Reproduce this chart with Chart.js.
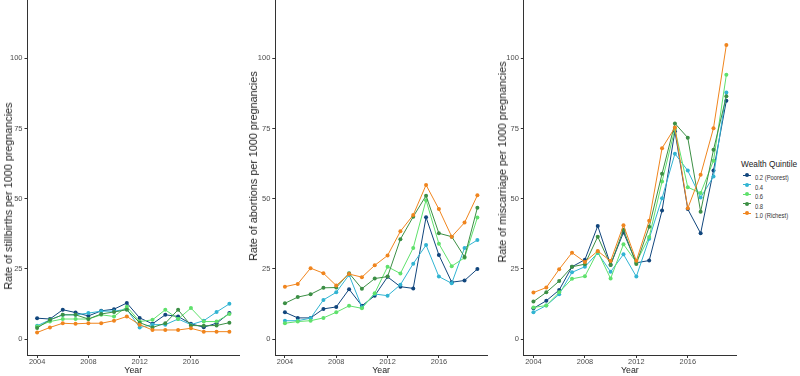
<!DOCTYPE html>
<html>
<head>
<meta charset="utf-8">
<script src="https://cdn.jsdelivr.net/npm/chart.js@4"></script>
<style>
  body { margin: 0; background: #fff; font-family: "Liberation Sans", Arial, sans-serif; }
  #wrap { position: relative; width: 800px; height: 376px; overflow: hidden; }
  .panel { position: absolute; top: -4px; height: 380px; }
  .ytitle { position: absolute; font-size: 10.8px; color: #222; white-space: nowrap;
            transform: translate(-50%, -50%) rotate(-90deg); line-height: 12px; }
  #legend { position: absolute; left: 741px; top: 158px; color: #000; white-space: nowrap; }
  #legend .ttl { font-size: 8.3px; line-height: 12px; color: #222; }
  #legend .item { position: relative; height: 9.5px; line-height: 9.5px; padding-left: 14px; }
  #legend .txt { display: inline-block; font-size: 7.3px; color: #333; transform: scaleX(0.8); transform-origin: left center; }
  #legend .ln { position: absolute; left: 2px; top: 4.5px; width: 8px; height: 1px; }
  #legend .dot { position: absolute; left: 4px; top: 3px; width: 4px; height: 4px; border-radius: 50%; }
</style>
</head>
<body>
<div id="wrap">
  <div class="panel" style="left:3px;width:240px"><canvas id="c1"></canvas></div>
  <div class="panel" style="left:247px;width:244px"><canvas id="c2"></canvas></div>
  <div class="panel" style="left:497px;width:243px"><canvas id="c3"></canvas></div>
  <div class="ytitle" id="t1" style="left:8px;top:196px"></div>
  <div class="ytitle" id="t2" style="left:252.5px;top:166px"></div>
  <div class="ytitle" id="t3" style="left:502px;top:162px"></div>
  <div id="legend"></div>
</div>
<script>
// years on the x axis
const years = [2004, 2005, 2006, 2007, 2008, 2009, 2010, 2011, 2012, 2013, 2014, 2015, 2016, 2017, 2018, 2019];
const xTicks = [2004, 2008, 2012, 2016];
const yTicks = [0, 25, 50, 75, 100];

const quintiles = ['0.2 (Poorest)', '0.4', '0.6', '0.8', '1.0 (Richest)'];
const colors = ['#11467d', '#31b4d2', '#5fe16c', '#3c8f45', '#f0851e'];

// stillbirths per 1000 pregnancies
const still02 = [7.5, 7.2, 10.5, 9.5, 8.3, 10.1, 10.7, 12.9, 7.6, 5.5, 8.7, 8.1, 5.5, 4.3, 5.7, 9.3];
const still04 = [4.8, 6.9, 8.7, 8.7, 9.3, 10.0, 10.0, 10.7, 4.2, 5.2, 5.2, 7.2, 5.2, 6.6, 9.7, 12.6];
const still06 = [4.5, 6.3, 7.2, 7.2, 7.2, 8.7, 8.1, 11.6, 6.3, 6.9, 10.5, 7.2, 11.1, 6.3, 6.3, 9.0];
const still08 = [4.0, 6.9, 8.7, 8.7, 7.2, 9.0, 9.7, 10.5, 5.9, 4.2, 5.7, 10.5, 4.9, 4.8, 4.9, 5.9];
const still10 = [2.4, 4.2, 5.7, 5.5, 5.7, 5.7, 6.6, 8.1, 5.2, 3.3, 3.3, 3.3, 3.9, 2.7, 2.7, 2.7];

// abortions per 1000 pregnancies
const abort02 = [9.6, 7.6, 7.6, 10.8, 11.5, 17.8, 11.9, 15.5, 22.2, 18.7, 18.1, 43.4, 30.0, 20.3, 20.9, 25.0];
const abort04 = [6.6, 6.6, 7.5, 14.0, 16.7, 22.9, 11.4, 16.1, 15.5, 19.4, 26.9, 33.5, 22.3, 19.9, 32.5, 35.3];
const abort06 = [5.7, 6.3, 6.6, 7.6, 9.6, 11.9, 11.0, 16.4, 25.8, 23.4, 32.5, 49.5, 34.0, 26.0, 29.0, 43.3];
const abort08 = [12.8, 15.0, 16.0, 18.3, 18.4, 23.5, 18.0, 21.6, 22.3, 35.6, 43.6, 51.1, 37.7, 36.5, 29.3, 46.8];
const abort10 = [18.7, 19.7, 25.3, 23.5, 19.1, 23.2, 22.1, 26.3, 29.8, 38.4, 44.2, 54.9, 46.3, 36.5, 41.5, 51.2];

// miscarriages per 1000 pregnancies
const misc02 = [11.0, 13.7, 17.5, 25.8, 28.3, 40.3, 26.5, 38.0, 27.2, 28.0, 45.8, 74.0, 46.3, 37.7, 60.0, 84.9];
const misc04 = [9.6, 12.0, 16.0, 23.8, 25.8, 30.7, 24.0, 30.2, 22.3, 35.8, 50.2, 66.0, 60.0, 50.4, 57.9, 87.8];
const misc06 = [11.3, 12.0, 16.7, 21.5, 22.4, 31.2, 21.6, 33.8, 27.4, 36.4, 56.1, 74.8, 54.1, 52.0, 63.5, 94.1];
const misc08 = [13.4, 16.7, 20.7, 25.8, 26.7, 36.5, 26.4, 39.0, 26.8, 40.0, 58.9, 76.8, 71.7, 45.4, 67.4, 86.5];
const misc10 = [16.6, 18.4, 24.9, 30.8, 27.5, 31.4, 27.8, 40.6, 27.9, 42.2, 68.0, 75.3, 46.6, 58.5, 75.1, 104.7];

function makeDatasets(series) {
  return series.map(function(vals, i) {
    return {
      label: quintiles[i],
      data: vals.map((v, j) => ({ x: years[j], y: v })),
      borderColor: colors[i],
      backgroundColor: colors[i],
      borderWidth: 1,
      pointRadius: 2,
      pointBorderWidth: 0,
      tension: 0,
      order: 4 - i
    };
  });
}

// drop the automatic label overhang padding so the plot fills the canvas height
function noPad(s) {
  s.paddingTop = 0; s.paddingBottom = 0; s.paddingLeft = 0; s.paddingRight = 0;
}

function makeChart(id, series, yWidth) {
  const ctx = document.getElementById(id).getContext('2d');
  return new Chart(ctx, {
    type: 'line',
    data: { datasets: makeDatasets(series) },
    options: {
      responsive: false,
      maintainAspectRatio: false,
      animation: false,
      layout: { padding: { top: 0, right: 3, bottom: 0, left: 0 } },
      plugins: { legend: { display: false }, tooltip: { enabled: false } },
      scales: {
        x: {
          type: 'linear',
          min: 2003.25,
          max: 2019.75,
          afterBuildTicks: s => { s.ticks = xTicks.map(v => ({ value: v })); },
          afterFit: s => { s.height = 21; noPad(s); },
          grid: { drawOnChartArea: false, tickLength: 3, color: '#333' },
          border: { color: '#333', width: 1 },
          ticks: { color: '#4d4d4d', font: { size: 7.4, family: 'Liberation Sans' }, padding: 0, maxRotation: 0, callback: v => String(v) },
          title: { display: true, text: 'Year', color: '#222', font: { size: 8.8, family: 'Liberation Sans' }, padding: 0 }
        },
        y: {
          min: -5.6,
          max: 120.7,
          afterBuildTicks: s => { s.ticks = yTicks.map(v => ({ value: v })); },
          afterFit: s => { s.width = yWidth; noPad(s); },
          grid: { drawOnChartArea: false, tickLength: 3, color: '#333' },
          border: { color: '#333', width: 1 },
          ticks: { color: '#4d4d4d', font: { size: 7.5, family: 'Liberation Sans' }, padding: 2 }
        }
      }
    }
  });
}

function sizeCanvas(id, w, h) {
  const c = document.getElementById(id);
  c.width = w; c.height = h;
  c.style.width = w + 'px'; c.style.height = h + 'px';
}
sizeCanvas('c1', 240, 380);
sizeCanvas('c2', 244, 380);
sizeCanvas('c3', 243, 380);

makeChart('c1', [still02, still04, still06, still08, still10], 24.5);
makeChart('c2', [abort02, abort04, abort06, abort08, abort10], 28.3);
makeChart('c3', [misc02, misc04, misc06, misc08, misc10], 26.8);

// y axis titles
document.getElementById('t1').textContent = 'Rate of stillbirths per 1000 pregnancies';
document.getElementById('t2').textContent = 'Rate of abortions per 1000 pregnancies';
document.getElementById('t3').textContent = 'Rate of miscarriage per 1000 pregnancies';

// legend
const legend = document.getElementById('legend');
let html = '<div class="ttl">Wealth Quintile</div>';
quintiles.forEach(function(q, i) {
  html += '<div class="item"><span class="ln" style="background:' + colors[i] + '"></span>' +
          '<span class="dot" style="background:' + colors[i] + '"></span><span class="txt">' + q + '</span></div>';
});
legend.innerHTML = html;
</script>
</body>
</html>
